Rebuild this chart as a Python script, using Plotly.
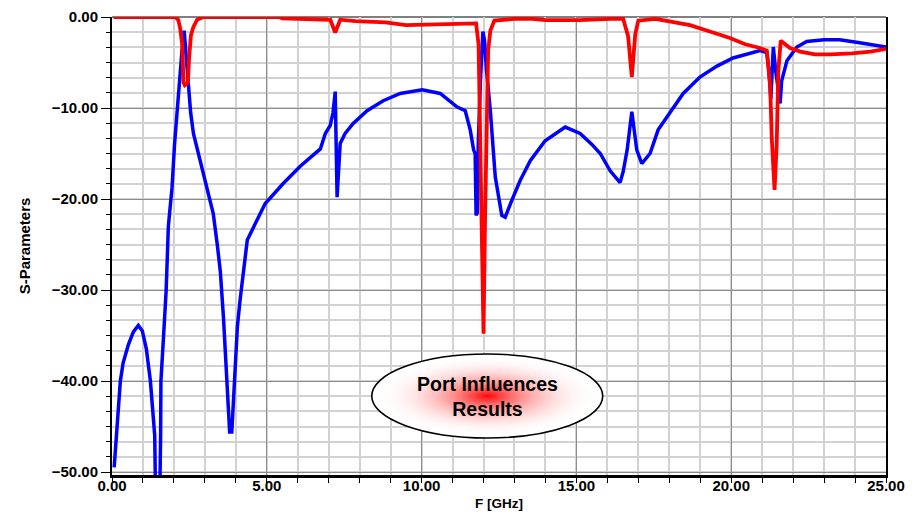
import plotly.graph_objects as go

# ---------------- data ----------------
freq_blue = [0.07, 0.17, 0.27, 0.36, 0.53, 0.69, 0.85, 0.98, 1.11, 1.24, 1.33, 1.38, 1.42, 1.53, 1.57,
             1.58, 1.67, 1.75, 1.82, 1.94, 2.02, 2.10, 2.18, 2.26, 2.33, 2.40, 2.46, 2.54, 2.63, 2.85,
             3.08, 3.27, 3.40, 3.50, 3.60, 3.68, 3.74, 3.80, 3.87, 3.93, 3.98, 4.05, 4.14, 4.24, 4.37, 4.63,
             4.95, 5.53, 6.08, 6.73, 6.89, 7.05, 7.14, 7.21, 7.27, 7.37, 7.53, 7.79, 8.24, 8.76, 9.31,
             10.02, 10.6, 11.15, 11.41, 11.57, 11.68, 11.73, 11.76, 11.80, 11.83, 11.90, 11.98, 12.03,
             12.10, 12.22, 12.30, 12.38, 12.59, 12.70, 12.92, 13.18, 13.51, 13.99, 14.64, 15.12, 15.5,
             15.77, 16.09, 16.41, 16.51, 16.64, 16.79, 16.95, 17.11, 17.38, 17.64, 17.93, 18.45, 18.99,
             19.54, 20.06, 20.61, 20.93, 21.15, 21.22, 21.28, 21.36, 21.44, 21.58, 21.63, 21.8, 22.12,
             22.44, 23.0, 23.5, 24.1, 25.0]
s_blue = [-49.5, -44, -40, -38, -36, -34.6, -33.9, -34.5, -36.5, -40, -44, -46, -56, -56, -46,
          -40, -34.8, -30, -23, -18.7, -14, -10.3, -6.5, -3.7, -1.5, -4.5, -7.3, -10.5, -12.8, -15.8,
          -18.7, -21.6, -25, -28, -33, -38.5, -42.5, -45.6, -45.6, -42, -39.6, -34, -31, -27.8, -24.5, -22.7,
          -20.5, -18.3, -16.4, -14.5, -12.8, -11.9, -10.5, -8.2, -19.8, -13.9, -12.8, -11.7, -10.3, -9.2, -8.4,
          -8.0, -8.4, -9.9, -10.3, -12.4, -14.6, -15, -21.8, -21.5, -14, -7, -1.6, -2.5,
          -6, -10.3, -14.5, -17.6, -21.8, -22, -20.1, -18, -15.8, -13.6, -12.1, -12.8, -14,
          -15, -16.9, -18.2, -17, -14.6, -10.4, -14.6, -16.1, -15, -12.4, -11, -8.4, -6.6,
          -5.4, -4.5, -4.0, -3.7, -3.9, -5.9, -9, -3.3, -6, -9.5, -7, -4.8, -3.3,
          -2.7, -2.5, -2.5, -2.8, -3.3]

freq_red = [0.05, 2.04, 2.14, 2.2, 2.27, 2.31, 2.35, 2.45, 2.49, 2.55, 2.63, 2.75, 2.95, 5.4, 5.5,
            6.8, 7.05, 7.21, 7.37, 7.86, 8.83, 9.5, 10.6, 11.4, 11.76, 11.84, 11.90, 11.95, 12.00,
            12.05, 12.10, 12.15, 12.22, 12.35, 13.0, 13.6, 14.0, 15.1, 16.1, 16.51, 16.67, 16.79,
            16.90, 17.0, 17.55, 18.02, 18.67, 19.31, 19.96, 20.45, 20.93, 21.15, 21.26, 21.31, 21.40,
            21.47, 21.52, 21.60, 21.9, 22.23, 22.7, 23.2, 23.9, 24.5, 25.0]
s_red = [0, 0, -0.3, -1.2, -3.1, -7.2, -7.5, -7.2, -4.5, -2, -1.1, -0.3, 0, 0, -0.15,
         -0.2, -0.3, -1.7, -0.3, -0.45, -0.6, -0.9, -0.8, -0.7, -0.7, -3, -15, -24, -34.8,
         -22, -9, -3.7, -1.5, -0.4, -0.2, -0.2, -0.35, -0.35, -0.2, -0.2, -2.1, -6.6,
         -1.9, -0.4, -0.2, -0.45, -0.9, -1.6, -2.3, -3.0, -3.4, -3.7, -7.7, -13.3, -19,
         -14, -6, -2.6, -3.4, -3.8, -4.1, -4.1, -4.0, -3.8, -3.5]

x_ticks = [0, 5, 10, 15, 20, 25]
y_ticks = [-50, -40, -30, -20, -10, 0]
note_text = "Port Influences<br>Results"

FONT = "Liberation Sans, Arial, sans-serif"

fig = go.Figure()
fig.add_trace(go.Scatter(x=freq_blue, y=s_blue, mode="lines",
                         line=dict(color="#0000ff", width=3.5), cliponaxis=True, hoverinfo="skip"))
fig.add_trace(go.Scatter(x=freq_red, y=s_red, mode="lines",
                         line=dict(color="#ff0000", width=3.8), cliponaxis=False, hoverinfo="skip"))

# ellipse with radial red->white gradient (concentric fills)
cx, cy, rx, ry = 12.12, -41.65, 3.73, 4.61
N = 40
for k in range(N):
    t = 1 - k / N
    g = int(round(255 * (1 - (1 - t) ** 2.2)))
    fig.add_shape(type="circle", xref="x", yref="y", layer="above",
                  x0=cx - rx * t, x1=cx + rx * t, y0=cy - ry * t, y1=cy + ry * t,
                  fillcolor=f"rgb(255,{g},{g})", line=dict(width=0))
fig.add_shape(type="circle", xref="x", yref="y", layer="above",
              x0=cx - rx, x1=cx + rx, y0=cy - ry, y1=cy + ry,
              fillcolor="rgba(0,0,0,0)", line=dict(color="black", width=1.6))
fig.add_annotation(x=cx, y=cy, xref="x", yref="y", text=note_text, showarrow=False,
                   font=dict(family=FONT, size=19.5, color="black", weight=700),
                   xanchor="center", yanchor="middle")

# top border
fig.add_shape(type="line", xref="paper", yref="paper", x0=0, x1=1, y0=1, y1=1,
              line=dict(color="black", width=1), layer="below")

fig.update_layout(
    width=919, height=523,
    margin=dict(l=112, r=33, t=17, b=48, autoexpand=False),
    paper_bgcolor="white", plot_bgcolor="white",
    showlegend=False,
    font=dict(family=FONT, color="black"),
    xaxis=dict(range=[0, 25], tickvals=x_ticks, tickformat=".2f", automargin=False,
               showgrid=True, gridcolor="#8c8c8c", gridwidth=1,
               zeroline=False, showline=True, linecolor="black", linewidth=3,
               ticks="outside", ticklen=5, tickcolor="black", tickwidth=1,
               ticklabelstandoff=-10,
               tickfont=dict(family=FONT, size=15, color="black", weight=700),
               minor=dict(dtick=1, tick0=0, showgrid=True, gridcolor="#d2d2d2", gridwidth=1.6,
                          ticks="outside", ticklen=5, tickcolor="black"),
               title=dict(text="F [GHz]", standoff=6,
                          font=dict(family=FONT, size=13.5, color="black", weight=700)),
               layer="below traces"),
    yaxis=dict(range=[-50.33, 0], tickvals=y_ticks, tickformat=".2f", automargin=False,
               showgrid=True, gridcolor="#8c8c8c", gridwidth=1,
               zeroline=False, showline=True, linecolor="black", linewidth=2, mirror=True,
               ticks="outside", ticklen=9, tickcolor="black", tickwidth=1,
               tickfont=dict(family=FONT, size=15, color="black", weight=700),
               minor=dict(dtick=10 / 6, tick0=0, showgrid=True, gridcolor="#d2d2d2", gridwidth=1.6,
                          ticks="outside", ticklen=4, tickcolor="black"),
               title=dict(text="S-Parameters", standoff=17,
                          font=dict(family=FONT, size=15, color="black", weight=700)),
               layer="below traces"),
)

fig.write_html("out.html", config={"displayModeBar": False},
               post_script="document.body.style.margin='0px';document.body.style.overflow='hidden';")
